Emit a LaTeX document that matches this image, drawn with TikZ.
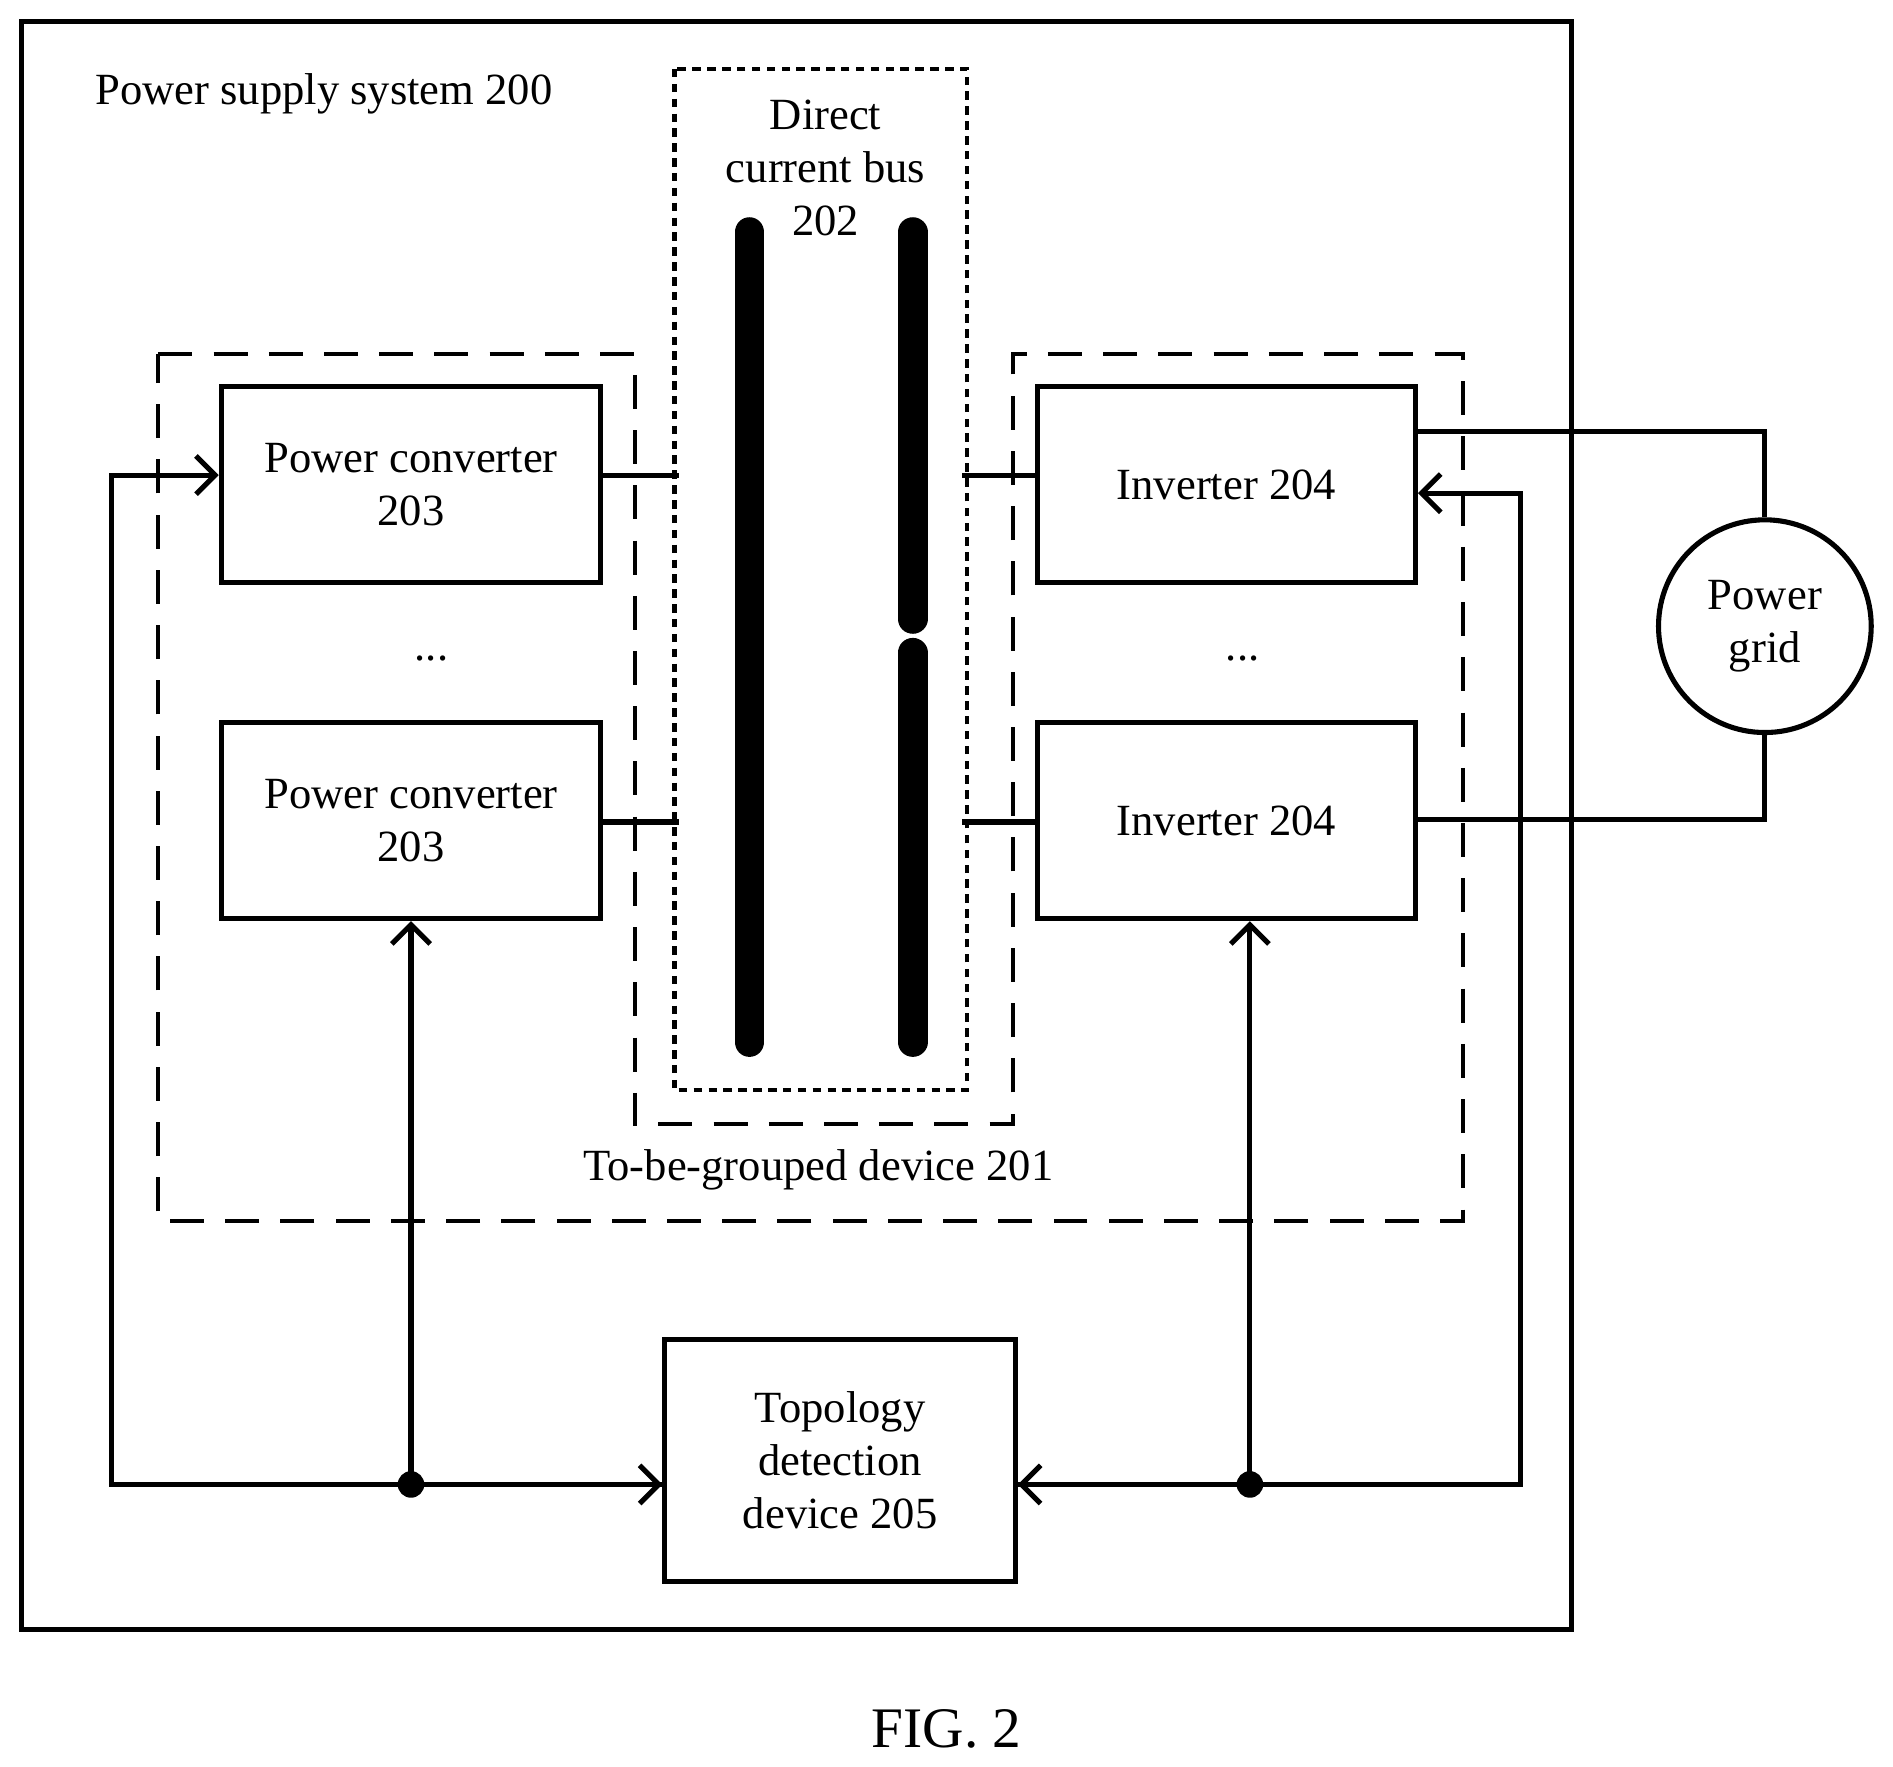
\documentclass[tikz,border=0pt]{standalone}
\usepackage{fontspec}
\setmainfont{Liberation Serif}
\usetikzlibrary{arrows.meta}
\begin{document}
\begin{tikzpicture}[x=0.02cm,y=-0.02cm]
	\tikzstyle{box}=[draw,line width=2.4pt,inner sep=0pt,align=center,font=\fontsize{21}{25}\selectfont]
	\tikzstyle{label}=[inner sep=0pt,align=center,font=\fontsize{21}{25}\selectfont]
	\tikzstyle{wire}=[-,draw,line width=2.4pt]
	\tikzstyle{arrow1}=[-{Straight Barb[length=9pt,width=18pt,line width=2.4pt]},draw,line width=2.4pt]
	\tikzstyle{bar}=[-,draw,line width=14pt,line cap=round]
	\useasboundingbox (0,0) rectangle (1566,1461);
		\draw [line width=2.4pt] (18,18) rectangle (1300,1348);
		\node [style=label] (sys) at (268,78) {Power supply system 200};
		\draw [line width=2pt,dotted,dash pattern=on 4pt off 3pt] (558,57) rectangle (800,902);
		\node [style=label] (bus) at (683,139) {Direct\\current bus\\202};
		\draw [style=bar] (620,192) to (620,862);
		\draw [style=bar] (755,192) to (755,512);
		\draw [style=bar] (755,540) to (755,862);
		\draw [line width=2pt,dash pattern=on 16pt off 10pt] (131,293) -- (525,293) -- (525,930) -- (838,930) -- (838,293) -- (1210,293) -- (1210,1010) -- (131,1010) -- cycle;
		\node [style=label] (grp) at (677,968) {To-be-grouped device 201};
		\node [style=box,minimum width=6.28cm,minimum height=3.24cm] (pc1) at (340,401) {Power converter\\203};
		\node [style=box,minimum width=6.28cm,minimum height=3.24cm] (pc2) at (340,679) {Power converter\\203};
		\node [style=box,minimum width=6.26cm,minimum height=3.24cm] (inv1) at (1014.5,401) {Inverter 204};
		\node [style=box,minimum width=6.26cm,minimum height=3.24cm] (inv2) at (1014.5,679) {Inverter 204};
		\node [style=label] (d1) at (357,545) {...};
		\node [style=label] (d2) at (1028,545) {...};
		\node [style=box,circle,minimum size=3.52cm] (grid) at (1460,518) {Power\\grid};
		\node [style=box,minimum width=5.8cm,minimum height=4cm] (topo) at (695,1208) {Topology\\detection\\device 205};
		\coordinate (b1) at (562,393);
		\coordinate (b2) at (562,680);
		\coordinate (b3) at (796,393);
		\coordinate (b4) at (796,680);
		\coordinate (jl) at (340,1228);
		\coordinate (jr) at (1034,1228);
		\draw [style=wire] (pc1.east |- b1) to (b1);
		\draw [style=wire] (pc2.east |- b2) to (b2);
		\draw [style=wire] (b3) to (inv1.west |- b3);
		\draw [style=wire] (b4) to (inv2.west |- b4);
		\draw [style=wire] (inv1.east |- 0,357) -| (grid.north);
		\draw [style=wire] (inv2.east |- 0,678) -| (grid.south);
		\draw [style=arrow1] (topo.west |- jl) -- (92,1228) |- (pc1.west |- 0,393);
		\draw [style=arrow1] (jl) to (topo.west |- jl);
		\draw [style=arrow1] (jl) to (pc2.south);
		\draw [style=arrow1] (topo.east |- jr) -- (1258,1228) |- (inv1.east |- 0,408);
		\draw [style=arrow1] (jr) to (topo.east |- jr);
		\draw [style=arrow1] (jr) to (inv2.south -| jr);
		\fill (jl) circle (11);
		\fill (jr) circle (11);
		\node [inner sep=0pt,font=\fontsize{27}{30}\selectfont] (fig) at (783,1430) {FIG. 2};
\end{tikzpicture}
\end{document}
